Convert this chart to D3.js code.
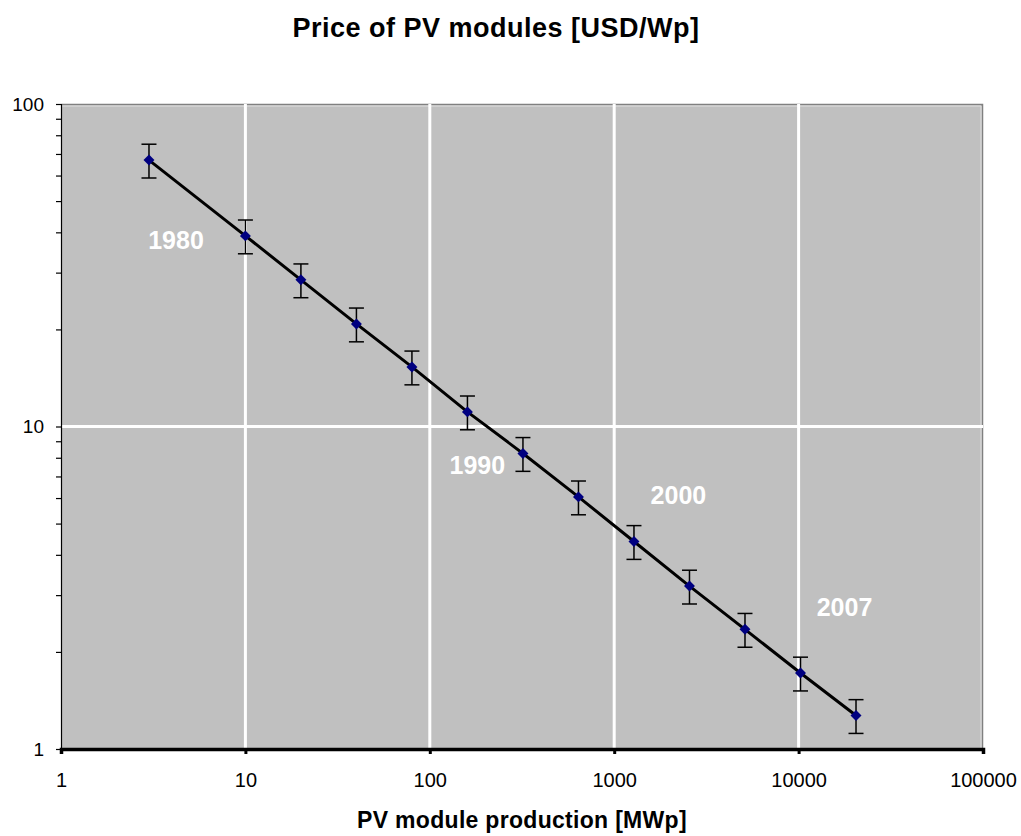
<!DOCTYPE html>
<html>
<head>
<meta charset="utf-8">
<script src="https://cdn.jsdelivr.net/npm/d3@7"></script>
<style>
  body { margin: 0; background: #fff; }
  text { font-family: Arial, "Liberation Sans", sans-serif; }
</style>
</head>
<body>
<svg width="1021" height="836"></svg>
<script>
// cumulative production [MWp] and module price [USD/Wp]
let production = [3, 10, 20, 40, 80, 160, 320, 640, 1280, 2560, 5120, 10240, 20480];
let price = [67, 39, 28.5, 20.8, 15.3, 11.1, 8.25, 6.05, 4.4, 3.2, 2.35, 1.72, 1.27];
let errPct = 0.12;

let xTicks = [1, 10, 100, 1000, 10000, 100000];
let yTicks = [1, 10, 100];

// year annotations [production, price] at text start / baseline
let yearLabels = ["1980", "1990", "2000", "2007"];
let yearX = [2.97, 128, 1575, 12540];
let yearY = [35.5, 7.12, 5.75, 2.58];

let svg = d3.select("svg");
let margin = { left: 61, right: 38, top: 104, bottom: 87 };
let width = 1021 - margin.left - margin.right;
let height = 836 - margin.top - margin.bottom;

let x = d3.scaleLog().domain([1, 100000]).range([0, width]);
let y = d3.scaleLog().domain([1, 100]).range([height, 0]);

svg.append("text")
  .attr("x", 496)
  .attr("y", 37)
  .attr("text-anchor", "middle")
  .style("font-size", "27px")
  .style("font-weight", "bold")
  .style("letter-spacing", "0.5px")
  .text("Price of PV modules [USD/Wp]");

let g = svg.append("g").attr("transform", `translate(${margin.left},${margin.top})`);

g.append("rect")
  .attr("width", width)
  .attr("height", height)
  .attr("fill", "#c0c0c0");

// border top/right
g.append("path")
  .attr("d", `M0,0.5H${width - 0.5}V${height}`)
  .attr("fill", "none")
  .attr("stroke", "#808080")
  .attr("stroke-width", 1.5);
g.append("path")
  .attr("d", `M0,2H${width - 2}V${height}`)
  .attr("fill", "none")
  .attr("stroke", "#e0e0e0")
  .attr("stroke-width", 1);

// grid
g.append("g")
  .selectAll("line")
  .data(xTicks.slice(1, -1))
  .enter()
  .append("line")
  .attr("x1", d => x(d))
  .attr("x2", d => x(d))
  .attr("y1", 0)
  .attr("y2", height)
  .attr("stroke", "#fff")
  .attr("stroke-width", 3);

g.append("g")
  .selectAll("line")
  .data(yTicks.slice(1, -1))
  .enter()
  .append("line")
  .attr("x1", 0)
  .attr("x2", width)
  .attr("y1", d => y(d))
  .attr("y2", d => y(d))
  .attr("stroke", "#fff")
  .attr("stroke-width", 3);

// y axis
let yAxis = g.append("g")
  .call(d3.axisLeft(y).ticks(10).tickSize(5).tickFormat(d => (yTicks.includes(d) ? d : "")));
yAxis.select(".domain").attr("stroke", "#000").attr("stroke-width", 1.2);
yAxis.selectAll(".tick line").attr("stroke-width", 1.2);
yAxis.selectAll(".tick text")
  .attr("x", -17)
  .style("font-size", "19px")
  .style("font-family", "Arial, 'Liberation Sans', sans-serif");

// x axis
let xAxis = g.append("g")
  .attr("transform", `translate(0,${height})`)
  .call(d3.axisBottom(x).tickValues(xTicks).tickSize(5).tickFormat(d3.format("d")));
xAxis.select(".domain").attr("stroke", "#000").attr("stroke-width", 3.5);
xAxis.selectAll(".tick line").attr("stroke-width", 3);
xAxis.selectAll(".tick text")
  .attr("y", 24)
  .style("font-size", "20px")
  .style("font-family", "Arial, 'Liberation Sans', sans-serif");

svg.append("text")
  .attr("x", 522)
  .attr("y", 828)
  .attr("text-anchor", "middle")
  .style("font-size", "23px")
  .style("font-weight", "bold")
  .style("letter-spacing", "0.3px")
  .text("PV module production [MWp]");

// line
let line = d3.line()
  .x((d, i) => x(production[i]))
  .y(d => y(d));

g.append("path")
  .datum(price)
  .attr("d", line)
  .attr("fill", "none")
  .attr("stroke", "#000")
  .attr("stroke-width", 3);

// error bars
let eb = g.append("g").attr("stroke", "#000").attr("stroke-width", 1.5);
price.forEach((p, i) => {
  let cx = x(production[i]);
  let yTop = y(p * (1 + errPct));
  let yBot = y(p * (1 - errPct));
  eb.append("line").attr("x1", cx).attr("x2", cx).attr("y1", yTop).attr("y2", yBot);
  eb.append("line").attr("x1", cx - 7.5).attr("x2", cx + 7.5).attr("y1", yTop).attr("y2", yTop);
  eb.append("line").attr("x1", cx - 7.5).attr("x2", cx + 7.5).attr("y1", yBot).attr("y2", yBot);
});

// markers (square rotated 45deg = Excel diamond)
g.append("g")
  .selectAll("path")
  .data(price)
  .enter()
  .append("path")
  .attr("d", d3.symbol().type(d3.symbolSquare).size(60))
  .attr("transform", (d, i) => `translate(${x(production[i])},${y(d)}) rotate(45)`)
  .attr("fill", "#000080");

// year labels
g.append("g")
  .selectAll("text")
  .data(yearLabels)
  .enter()
  .append("text")
  .attr("x", (d, i) => x(yearX[i]))
  .attr("y", (d, i) => y(yearY[i]))
  .attr("fill", "#fff")
  .style("font-size", "25px")
  .style("font-weight", "bold")
  .text(d => d);
</script>
</body>
</html>
